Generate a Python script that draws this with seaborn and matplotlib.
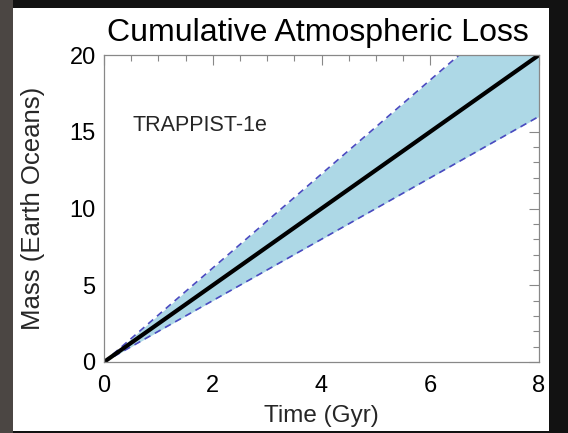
import matplotlib
matplotlib.use("Agg")
import matplotlib.pyplot as plt
import seaborn as sns
import pandas as pd
from matplotlib.patches import Rectangle
from matplotlib.ticker import MultipleLocator

time_gyr = [0.0, 8.0]
mass_mean = [0.0, 20.0]
mass_low = [0.0, 16.0]
mass_high = [0.0, 24.5]
x_ticks = [0, 2, 4, 6, 8]
y_ticks = [0, 5, 10, 15, 20]

sns.set_theme(style="white")
plt.rcParams['font.family'] = ['Liberation Sans', 'DejaVu Sans']

fig = plt.figure(figsize=(5.68, 4.33), dpi=100)
fig.patch.set_facecolor('#121212')
fig.patches.append(Rectangle((0, 0), 13/568, 1, transform=fig.transFigure,
                             facecolor='#4b4643', edgecolor='none', zorder=-5))
fig.patches.append(Rectangle((13/568, 1-431/433), (549-13)/568, (431-8)/433,
                             transform=fig.transFigure, facecolor='white',
                             edgecolor='none', zorder=-5))

ax = fig.add_axes([104/568, 1-362/433, (539-104)/568, (362-55)/433])
ax.set_zorder(2)
ax.set_facecolor('white')

df = pd.DataFrame({'t': time_gyr, 'mean': mass_mean, 'low': mass_low, 'high': mass_high})
ax.fill_between(df['t'], df['low'], df['high'], color='#add8e6', linewidth=0)
sns.lineplot(data=df, x='t', y='low', ax=ax, color='#4a4ac0', linewidth=1.2,
             linestyle=(0, (4, 3)))
sns.lineplot(data=df, x='t', y='high', ax=ax, color='#4a4ac0', linewidth=1.2,
             linestyle=(0, (4, 3)))
sns.lineplot(data=df, x='t', y='mean', ax=ax, color='black', linewidth=3)

ax.set_xlim(0, 8)
ax.set_ylim(0, 20)
ax.set_xticks(x_ticks)
ax.set_yticks(y_ticks)
ax.xaxis.set_minor_locator(MultipleLocator(0.5))
ax.yaxis.set_minor_locator(MultipleLocator(1))
ax.tick_params(which='both', direction='in', top=True, right=True,
               color='#888888', labelsize=17, labelcolor='black')
ax.tick_params(which='major', length=7, width=0.8)
ax.tick_params(which='minor', length=4, width=0.8)
ax.tick_params(axis='x', which='major', pad=9)
ax.tick_params(axis='y', which='major', pad=6)
for s in ax.spines.values():
    s.set_color('#888888')
    s.set_linewidth(0.9)

ax.set_xlabel('Time (Gyr)', fontsize=17.5)
ax.set_ylabel('Mass (Earth Oceans)', fontsize=18.5)
ax.xaxis.set_label_coords(0.5, -(416-362)/307, transform=ax.transAxes)
ax.xaxis.label.set_va('center')
ax.yaxis.set_label_coords(-(104-33)/435, 0.5, transform=ax.transAxes)
ax.yaxis.label.set_va('center')
fig.text(318/568, 1-33/433, 'Cumulative Atmospheric Loss', fontsize=23,
         ha='center', va='center', color='black')
ax.text(0.53, 15.4, 'TRAPPIST-1e', fontsize=15.5, va='center', ha='left')

fig.savefig('out.png', dpi=100, facecolor=fig.get_facecolor())
